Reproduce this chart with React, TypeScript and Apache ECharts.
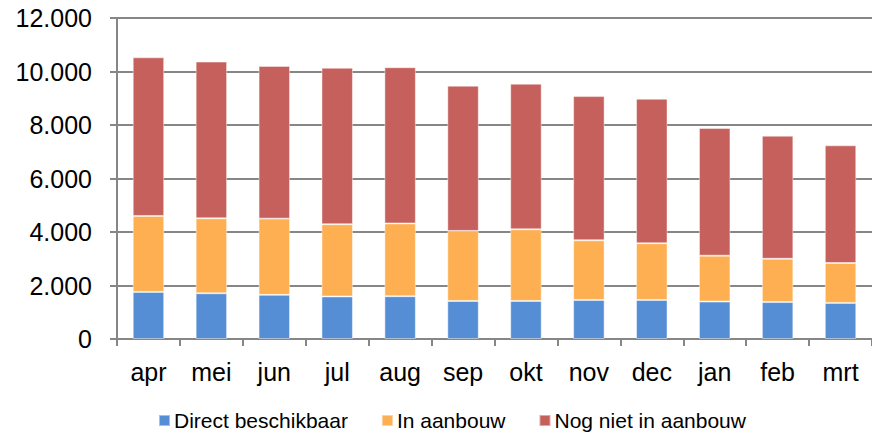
import React, { useEffect, useRef } from "react";
import * as echarts from "echarts";

const months = ["apr", "mei", "jun", "jul", "aug", "sep", "okt", "nov", "dec", "jan", "feb", "mrt"];
const directBeschikbaar = [1760, 1710, 1650, 1590, 1600, 1420, 1420, 1460, 1460, 1400, 1380, 1350];
const inAanbouw = [2840, 2800, 2850, 2700, 2720, 2620, 2680, 2230, 2120, 1715, 1620, 1490];
const nogNietInAanbouw = [5930, 5860, 5710, 5850, 5840, 5430, 5445, 5390, 5400, 4775, 4600, 4400];
const yTicks = { min: 0, max: 12000, interval: 2000 };

const FONT = "'Liberation Sans', Arial, sans-serif";

export default function App() {
  const ref = useRef<HTMLDivElement>(null);
  useEffect(() => {
    if (!ref.current) return;
    const chart = echarts.init(ref.current, undefined, { renderer: "svg" });
    const barStyle = (color: string) => ({
      color,
      borderColor: "rgba(255,255,255,0.45)",
      borderWidth: 1,
    });
    chart.setOption({
      animation: false,
      backgroundColor: "#ffffff",
      textStyle: { fontFamily: FONT },
      grid: { left: 117, top: 18, width: 761, height: 321, containLabel: false },
      legend: {
        top: 410,
        left: 158,
        padding: 0,
        itemWidth: 11,
        itemHeight: 11,
        itemGap: 33,
        icon: "rect",
        textStyle: { fontSize: 21, color: "#000", fontFamily: FONT, padding: [0, 0, 0, -1] },
        data: ["Direct beschikbaar", "In aanbouw", "Nog niet in aanbouw"],
      },
      xAxis: {
        type: "category",
        data: months,
        boundaryGap: true,
        axisLine: { lineStyle: { color: "#868686", width: 2 } },
        axisTick: { show: true, length: 7, lineStyle: { color: "#868686", width: 2 } },
        axisLabel: { fontSize: 25, color: "#000", margin: 20, fontFamily: FONT },
      },
      yAxis: {
        type: "value",
        min: yTicks.min,
        max: yTicks.max,
        interval: yTicks.interval,
        axisLine: { show: true, lineStyle: { color: "#868686", width: 2 } },
        axisTick: { show: true, length: 7, lineStyle: { color: "#868686", width: 2 } },
        splitLine: { lineStyle: { color: "#868686", width: 2 } },
        axisLabel: {
          fontSize: 25,
          color: "#000",
          margin: 25,
          fontFamily: FONT,
          formatter: (v: number) => v.toLocaleString("nl-NL").replace(/,/g, "."),
        },
      },
      series: [
        { name: "Direct beschikbaar", type: "bar", stack: "t", barWidth: "50%", data: directBeschikbaar, itemStyle: barStyle("#558ED5") },
        { name: "In aanbouw", type: "bar", stack: "t", data: inAanbouw, itemStyle: barStyle("#FDAF52") },
        { name: "Nog niet in aanbouw", type: "bar", stack: "t", data: nogNietInAanbouw, itemStyle: barStyle("#C5605C") },
      ],
    });
    return () => chart.dispose();
  }, []);
  return (
    <div
      ref={ref}
      style={{ position: "fixed", left: 0, top: 0, width: 872, height: 435, background: "#fff" }}
    />
  );
}
